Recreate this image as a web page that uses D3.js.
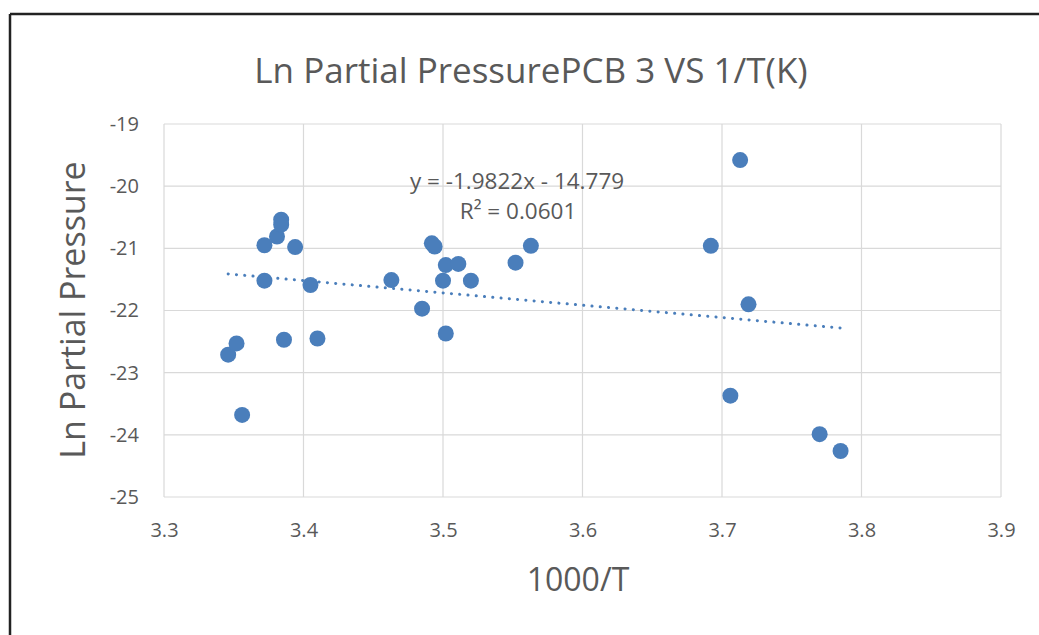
<!DOCTYPE html>
<html>
<head>
<meta charset="utf-8">
<script src="https://cdn.jsdelivr.net/npm/d3@7"></script>
<style>
  body { margin: 0; background: #fff; }
  svg { display: block; font-family: "Open Sans", sans-serif; }
</style>
</head>
<body>
<svg width="1039" height="635"></svg>
<script>
let width = 1039,
    height = 635;

// 1000/T values
let xVals = [3.346, 3.352, 3.356, 3.372, 3.372, 3.381, 3.384, 3.384, 3.386, 3.394,
             3.405, 3.410, 3.463, 3.485, 3.492, 3.494, 3.500, 3.502, 3.502, 3.511,
             3.520, 3.552, 3.563, 3.692, 3.713, 3.719, 3.706, 3.770, 3.785];
// Ln partial pressure
let yVals = [-22.71, -22.53, -23.68, -20.95, -21.52, -20.81, -20.54, -20.62, -22.47, -20.98,
             -21.59, -22.45, -21.51, -21.97, -20.92, -20.97, -21.52, -22.37, -21.27, -21.25,
             -21.52, -21.23, -20.96, -20.96, -19.58, -21.90, -23.37, -23.99, -24.26];

let xTicks = [3.3, 3.4, 3.5, 3.6, 3.7, 3.8, 3.9];
let yTicks = [-19, -20, -21, -22, -23, -24, -25];

// trendline from the chart label
let slope = -1.9822,
    intercept = -14.779,
    r2 = 0.0601;

let points = xVals.map((x, i) => ({x: x, y: yVals[i]}));

let margin = {left: 164, right: 1001, top: 124, bottom: 497};

let x = d3.scaleLinear().domain([3.3, 3.9]).range([margin.left, margin.right]);
let y = d3.scaleLinear().domain([-25, -19]).range([margin.bottom, margin.top]);

let svg = d3.select("svg");
let textColor = "#595959";
let blue = "#4a7ebb";

// outer frame (top and left edges visible)
svg.append("line")
    .attr("x1", 10).attr("y1", 14).attr("x2", width).attr("y2", 14)
    .attr("stroke", "#222").attr("stroke-width", 2.5);
svg.append("line")
    .attr("x1", 10).attr("y1", 14).attr("x2", 10).attr("y2", height)
    .attr("stroke", "#222").attr("stroke-width", 2.5);

// gridlines
svg.append("g")
  .selectAll("line")
  .data(yTicks)
  .enter().append("line")
    .attr("x1", margin.left).attr("x2", margin.right)
    .attr("y1", d => y(d)).attr("y2", d => y(d))
    .attr("stroke", "#d9d9d9").attr("stroke-width", 1.2);

svg.append("g")
  .selectAll("line")
  .data(xTicks)
  .enter().append("line")
    .attr("x1", d => x(d)).attr("x2", d => x(d))
    .attr("y1", margin.top).attr("y2", margin.bottom)
    .attr("stroke", "#d9d9d9").attr("stroke-width", 1.2);

// axes labels via d3 axes, lines hidden
let xAxis = svg.append("g")
    .attr("transform", "translate(0," + margin.bottom + ")")
    .call(d3.axisBottom(x).tickValues(xTicks).tickFormat(d3.format(".1f")).tickSize(0).tickPadding(26));
let yAxis = svg.append("g")
    .attr("transform", "translate(" + margin.left + ",0)")
    .call(d3.axisLeft(y).tickValues(yTicks).tickFormat(d => d3.format("d")(d).replace("−", "-")).tickSize(0).tickPadding(25));

[xAxis, yAxis].forEach(a => {
  a.select(".domain").remove();
  a.selectAll("text")
    .attr("fill", textColor)
    .style("font-family", "'Open Sans', sans-serif")
    .style("font-size", "20px");
});

// trendline
let xExt = d3.extent(xVals);
svg.append("line")
    .attr("x1", x(xExt[0])).attr("y1", y(slope * xExt[0] + intercept))
    .attr("x2", x(xExt[1])).attr("y2", y(slope * xExt[1] + intercept))
    .attr("stroke", blue)
    .attr("stroke-width", 3)
    .attr("stroke-linecap", "round")
    .attr("stroke-dasharray", "0.1 8.2");

// points
svg.append("g")
  .selectAll("circle")
  .data(points)
  .enter().append("circle")
    .attr("cx", d => x(d.x))
    .attr("cy", d => y(d.y))
    .attr("r", 8)
    .attr("fill", blue);

// equation labels
svg.append("text")
    .attr("x", 517).attr("y", 189)
    .attr("text-anchor", "middle")
    .attr("fill", textColor)
    .style("font-size", "22.5px")
    .text("y = " + slope + "x - " + Math.abs(intercept));
svg.append("text")
    .attr("x", 518).attr("y", 219)
    .attr("text-anchor", "middle")
    .attr("fill", textColor)
    .style("font-size", "22.5px")
    .text("R² = " + r2);

// title
svg.append("text")
    .attr("x", 531).attr("y", 83)
    .attr("text-anchor", "middle")
    .attr("fill", textColor)
    .style("font-size", "35px")
    .text("Ln Partial PressurePCB 3 VS 1/T(K)");

// axis titles
svg.append("text")
    .attr("x", 578).attr("y", 591)
    .attr("text-anchor", "middle")
    .attr("fill", textColor)
    .style("font-size", "32px")
    .text("1000/T");

svg.append("text")
    .attr("transform", "translate(85,310) rotate(-90)")
    .attr("text-anchor", "middle")
    .attr("fill", textColor)
    .style("font-size", "34px")
    .text("Ln Partial Pressure");
</script>
</body>
</html>
